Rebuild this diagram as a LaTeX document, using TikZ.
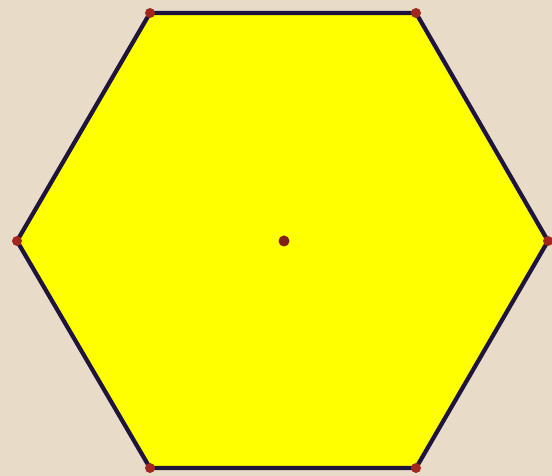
\documentclass[tikz,border=0pt]{standalone}
\usepackage{tikz}
\usetikzlibrary{positioning}

\definecolor{paper}{RGB}{232,220,200}
\definecolor{hexfill}{RGB}{255,255,0}
\definecolor{edgeblue}{RGB}{30,20,60}
\definecolor{dotred}{RGB}{160,40,30}

\begin{document}
\begin{tikzpicture}[x=0.02cm, y=-0.02cm]
	% Styles
	\tikzstyle{vdot} = [circle, fill=dotred, inner sep=0pt, minimum size=0.2cm]
	\tikzstyle{cdot} = [circle, fill=dotred!80!black, inner sep=0pt, minimum size=0.22cm]
	\tikzstyle{side} = [draw=edgeblue, line width=2.4pt, line join=round, fill=hexfill]

	% Background
	\fill[paper] (0,0) rectangle (552,476);
	\useasboundingbox (0,0) rectangle (552,476);

	% Corners
	\coordinate (A) at (150,13);
	\coordinate (B) at (416,13);
	\coordinate (C) at (548,241);
	\coordinate (D) at (416,468);
	\coordinate (E) at (150,468);
	\coordinate (F) at (17,241);

	% Hexagon
	\draw [side] (A) -- (B) -- (C) -- (D) -- (E) -- (F) -- cycle;

	% Dots
	\node (a) [vdot] at (A) {};
	\node (b) [vdot] at (B) {};
	\node (c) [vdot] at (C) {};
	\node (d) [vdot] at (D) {};
	\node (e) [vdot] at (E) {};
	\node (f) [vdot] at (F) {};
	\node (centre) [cdot] at (284,241) {};
\end{tikzpicture}
\end{document}
